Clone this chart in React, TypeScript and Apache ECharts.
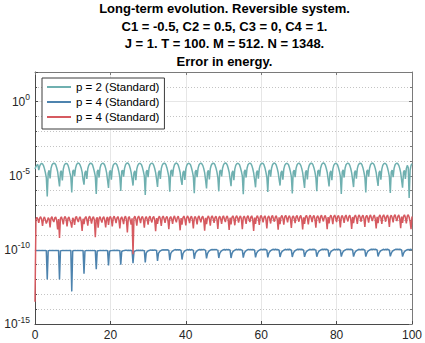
import { useEffect, useRef } from "react";
import * as echarts from "echarts";

const FONT = "'Liberation Sans', Arial, Helvetica, sans-serif";

const titleLines = [
  "Long-term evolution. Reversible system.",
  "C1 = -0.5, C2 = 0.5, C3 = 0, C4 = 1.",
  "J = 1. T = 100. M = 512. N = 1348.",
  "Error in energy.",
];

const legendLabels = ["p = 2 (Standard)", "p = 4 (Standard)", "p = 4 (Standard)"];
const seriesKeys = ["p2std", "p4stdA", "p4stdB"];
const seriesColors = ["#6fb0b0", "#4d83ae", "#d65a60"];

// sampling of the time axis
const tStart = 0;
const tStep = 0.25;

// axis ticks
const xMin = 0;
const xMax = 100;
const xInterval = 20;
const yExpMin = -15;
const yExpMax = 2;
const yExpInterval = 5;

// error values, stored as log10(error)
const errP2StdLog10 = [
  -4.55, -4.38, -4.28, -4.24, -4.62, -4.34, -4.21, -4.17, -4.2, -4.31, -4.52, -4.78, -5.12,
  -6.4, -4.82, -4.63, -5.18, -4.5, -4.27, -4.18, -4.15, -4.17, -4.26, -4.46, -4.71, -5.22,
  -5.72, -4.76, -4.66, -5.32, -4.56, -4.3, -4.2, -4.16, -4.19, -4.28, -4.5, -4.81, -5.08,
  -6.12, -4.71, -4.6, -5.02, -4.5, -4.27, -4.17, -4.14, -4.18, -4.3, -4.48, -4.76, -5.26,
  -5.6, -4.79, -4.67, -5.21, -4.53, -4.3, -4.19, -4.15, -4.17, -4.26, -4.47, -4.73, -5.04,
  -6.22, -4.72, -4.6, -5.12, -4.48, -4.26, -4.18, -4.15, -4.19, -4.29, -4.5, -4.8, -5.31,
  -5.82, -4.77, -4.64, -5.26, -4.54, -4.29, -4.2, -4.16, -4.18, -4.27, -4.46, -4.74, -5.1,
  -6.02, -4.7, -4.62, -5.06, -4.5, -4.27, -4.17, -4.14, -4.17, -4.28, -4.49, -4.77, -5.2,
  -5.66, -4.8, -4.66, -5.3, -4.55, -4.31, -4.2, -4.16, -4.18, -4.26, -4.45, -4.7, -5.02,
  -6.3, -4.74, -4.61, -5.1, -4.49, -4.26, -4.18, -4.15, -4.18, -4.3, -4.51, -4.79, -5.25,
  -5.75, -4.78, -4.65, -5.22, -4.52, -4.28, -4.19, -4.15, -4.17, -4.27, -4.47, -4.75, -5.08,
  -6.08, -4.71, -4.6, -5.04, -4.49, -4.26, -4.17, -4.14, -4.18, -4.29, -4.5, -4.78, -5.28,
  -5.62, -4.79, -4.67, -5.28, -4.55, -4.3, -4.2, -4.16, -4.18, -4.26, -4.46, -4.72, -5.05,
  -6.18, -4.73, -4.61, -5.1, -4.5, -4.27, -4.18, -4.15, -4.19, -4.3, -4.5, -4.79, -5.3,
  -5.85, -4.77, -4.64, -5.24, -4.53, -4.29, -4.19, -4.15, -4.17, -4.27, -4.47, -4.74, -5.12,
  -6.05, -4.7, -4.61, -5.05, -4.49, -4.27, -4.17, -4.14, -4.17, -4.28, -4.49, -4.76, -5.22,
  -5.7, -4.8, -4.66, -5.3, -4.55, -4.3, -4.2, -4.16, -4.18, -4.26, -4.46, -4.71, -5.03,
  -6.25, -4.73, -4.6, -5.12, -4.49, -4.26, -4.18, -4.15, -4.18, -4.3, -4.51, -4.8, -5.27,
  -5.78, -4.78, -4.65, -5.2, -4.52, -4.28, -4.19, -4.15, -4.17, -4.27, -4.47, -4.75, -5.1,
  -6.1, -4.71, -4.6, -5.06, -4.49, -4.26, -4.17, -4.14, -4.18, -4.29, -4.5, -4.78, -5.25,
  -5.66, -4.79, -4.67, -5.27, -4.55, -4.3, -4.2, -4.16, -4.18, -4.26, -4.46, -4.72, -5.06,
  -6.2, -4.73, -4.61, -5.1, -4.5, -4.27, -4.18, -4.15, -4.19, -4.3, -4.5, -4.79, -5.29,
  -5.82, -4.77, -4.64, -5.24, -4.53, -4.29, -4.19, -4.15, -4.17, -4.27, -4.47, -4.74, -5.12,
  -6.04, -4.7, -4.61, -5.05, -4.49, -4.27, -4.17, -4.14, -4.17, -4.28, -4.49, -4.76, -5.22,
  -5.72, -4.8, -4.66, -5.3, -4.55, -4.3, -4.2, -4.16, -4.18, -4.26, -4.46, -4.71, -5.04,
  -6.22, -4.73, -4.6, -5.12, -4.49, -4.26, -4.18, -4.15, -4.18, -4.3, -4.51, -4.8, -5.27,
  -5.76, -4.78, -4.65, -5.2, -4.52, -4.28, -4.19, -4.15, -4.17, -4.27, -4.47, -4.75, -5.1,
  -6.12, -4.71, -4.6, -5.06, -4.49, -4.26, -4.17, -4.14, -4.18, -4.29, -4.5, -4.78, -5.25,
  -5.68, -4.79, -4.67, -5.27, -4.55, -4.3, -4.2, -4.16, -4.18, -4.26, -4.46, -4.72, -5.06,
  -6.16, -4.73, -4.61, -5.1, -4.5, -4.27, -4.18, -4.15, -4.19, -4.3, -4.5, -4.79, -5.29,
  -5.8, -4.76, -4.64, -5.22, -4.52, -4.3, -4.45, -6.5, -4.62, -4.3, -4.18,
];

const errP4StdALog10 = [
  -10.02, -10.05, -10.04, -10.05, -10.05, -10.04, -10.05, -10.05, -10.04, -10.05, -10.05, -10.04, -10.05,
  -12.0, -10.06, -10.05, -10.05, -10.04, -10.05, -10.05, -10.04, -10.05, -10.05, -10.04, -10.05, -10.05,
  -12.0, -10.07, -10.05, -10.04, -10.05, -10.05, -10.04, -10.05, -10.05, -10.04, -10.05, -10.05, -10.05,
  -12.8, -10.07, -10.05, -10.05, -10.04, -10.05, -10.04, -10.05, -10.05, -10.04, -10.05, -10.04, -10.05,
  -11.6, -10.08, -10.05, -10.04, -10.05, -10.04, -10.05, -10.04, -10.05, -10.04, -10.05, -10.04, -10.05,
  -11.3, -10.09, -10.06, -10.05, -10.04, -10.04, -10.05, -10.04, -10.04, -10.05, -10.04, -10.04, -10.05,
  -11.05, -10.1, -10.06, -10.05, -10.04, -10.04, -10.03, -10.04, -10.04, -10.03, -10.04, -10.04, -10.05,
  -11.0, -10.12, -10.07, -10.05, -10.04, -10.03, -10.03, -10.04, -10.03, -10.04, -10.03, -10.04, -10.05,
  -10.9, -10.15, -10.08, -10.05, -10.03, -10.04, -10.02, -10.04, -10.03, -10.04, -10.02, -10.04, -10.05,
  -10.85, -10.22, -10.12, -10.07, -10.04, -10.02, -10.0, -10.03, -10.01, -10.03, -10.0, -10.02, -10.04,
  -10.75, -10.24, -10.13, -10.07, -10.03, -10.01, -9.99, -10.02, -9.99, -10.02, -9.99, -10.01, -10.04,
  -10.7, -10.25, -10.14, -10.08, -10.03, -10.0, -9.98, -10.02, -9.98, -10.01, -9.98, -10.01, -10.04,
  -10.65, -10.26, -10.14, -10.07, -10.03, -10.0, -9.98, -10.01, -9.97, -10.01, -9.98, -10.0, -10.03,
  -10.6, -10.25, -10.13, -10.07, -10.02, -9.99, -9.97, -10.01, -9.97, -10.0, -9.97, -10.0, -10.03,
  -10.58, -10.25, -10.13, -10.06, -10.02, -9.99, -9.97, -10.0, -9.96, -10.0, -9.97, -10.0, -10.02,
  -10.55, -10.24, -10.13, -10.06, -10.02, -9.99, -9.97, -10.01, -9.97, -10.0, -9.97, -9.99, -10.02,
  -10.55, -10.25, -10.12, -10.06, -10.02, -9.99, -9.96, -10.0, -9.96, -9.99, -9.97, -10.0, -10.03,
  -10.52, -10.24, -10.12, -10.06, -10.01, -9.98, -9.97, -10.0, -9.96, -10.0, -9.97, -9.99, -10.02,
  -10.5, -10.24, -10.13, -10.06, -10.02, -9.99, -9.96, -10.0, -9.96, -9.99, -9.96, -9.99, -10.02,
  -10.5, -10.23, -10.12, -10.05, -10.01, -9.98, -9.96, -10.0, -9.95, -9.99, -9.97, -9.99, -10.02,
  -10.48, -10.24, -10.12, -10.06, -10.02, -9.99, -9.96, -10.0, -9.96, -9.99, -9.96, -9.99, -10.02,
  -10.48, -10.23, -10.12, -10.05, -10.01, -9.98, -9.96, -9.99, -9.95, -9.99, -9.96, -9.99, -10.02,
  -10.47, -10.24, -10.12, -10.06, -10.02, -9.99, -9.96, -10.0, -9.96, -9.99, -9.96, -9.99, -10.01,
  -10.46, -10.23, -10.11, -10.05, -10.01, -9.98, -9.96, -9.99, -9.95, -9.99, -9.96, -9.98, -10.02,
  -10.46, -10.24, -10.12, -10.06, -10.02, -9.99, -9.96, -10.0, -9.96, -9.99, -9.96, -9.99, -10.02,
  -10.45, -10.23, -10.11, -10.05, -10.01, -9.98, -9.95, -9.99, -9.95, -9.98, -9.96, -9.98, -10.01,
  -10.45, -10.24, -10.12, -10.06, -10.02, -9.99, -9.96, -10.0, -9.96, -9.99, -9.96, -9.99, -10.02,
  -10.45, -10.23, -10.11, -10.05, -10.01, -9.98, -9.96, -9.99, -9.95, -9.98, -9.96, -9.98, -10.01,
  -10.44, -10.24, -10.12, -10.05, -10.02, -9.99, -9.96, -10.0, -9.96, -9.99, -9.96, -9.99, -10.02,
  -10.44, -10.23, -10.11, -10.05, -10.01, -9.98, -9.95, -9.99, -9.95, -9.98, -9.96, -9.98, -10.01,
  -10.45, -10.24, -10.12, -10.06, -10.02, -9.99, -9.97, -10.0, -9.96, -9.99, -9.98,
];

const errP4StdBLog10 = [
  -13.5, -7.96, -7.8, -7.92, -8.18, -7.86, -7.76, -7.94, -8.38, -7.9, -7.78, -7.97, -8.22,
  -8.06, -7.82, -7.93, -8.48, -7.86, -7.76, -8.0, -8.12, -7.84, -7.78, -8.02, -8.62, -7.92,
  -9.2, -7.88, -7.77, -7.97, -8.28, -7.86, -7.74, -7.92, -8.42, -7.87, -7.78, -8.0, -8.18,
  -8.5, -7.84, -7.94, -8.32, -7.82, -7.75, -7.98, -8.12, -7.85, -7.77, -8.04, -8.72, -7.9,
  -8.26, -7.86, -7.75, -7.95, -8.36, -7.84, -7.73, -7.92, -8.22, -7.86, -7.76, -7.98, -9.15,
  -7.92, -7.8, -8.5, -7.88, -7.76, -7.97, -8.16, -7.84, -7.76, -8.01, -8.48, -7.88, -7.78,
  -8.32, -7.85, -7.74, -7.93, -8.42, -7.84, -7.73, -7.91, -8.2, -7.85, -7.75, -7.97, -8.56,
  -7.89, -7.77, -7.96, -8.26, -7.83, -7.73, -7.97, -8.82, -7.85, -7.75, -7.99, -8.3, -7.87,
  -10.3, -7.84, -7.73, -7.93, -8.36, -7.84, -7.72, -7.9, -8.2, -7.84, -7.74, -7.96, -8.5,
  -7.87, -7.75, -7.94, -8.3, -7.82, -7.72, -7.96, -8.15, -7.83, -7.74, -7.99, -8.74, -7.86,
  -8.24, -7.84, -7.73, -7.92, -8.38, -7.83, -7.72, -7.9, -8.18, -7.84, -7.74, -7.96, -8.6,
  -7.86, -7.75, -7.93, -8.25, -7.82, -7.71, -7.95, -8.14, -7.82, -7.73, -7.98, -8.68, -7.85,
  -8.3, -7.83, -7.72, -7.91, -8.35, -7.82, -7.71, -7.89, -8.2, -7.83, -7.73, -7.95, -8.55,
  -7.85, -7.74, -7.92, -8.28, -7.81, -7.71, -7.94, -8.14, -7.82, -7.72, -7.97, -8.7, -7.84,
  -8.26, -7.82, -7.71, -7.9, -8.36, -7.81, -7.7, -7.88, -8.18, -7.82, -7.72, -7.94, -8.58,
  -7.84, -7.73, -7.91, -8.25, -7.8, -7.7, -7.93, -8.12, -7.81, -7.71, -7.96, -8.66, -7.83,
  -8.28, -7.81, -7.7, -7.89, -8.34, -7.8, -7.69, -7.87, -8.16, -7.81, -7.71, -7.93, -8.6,
  -7.83, -7.72, -7.9, -8.24, -7.79, -7.69, -7.92, -8.12, -7.8, -7.7, -7.95, -8.72, -7.82,
  -8.25, -7.8, -7.69, -7.88, -8.32, -7.79, -7.68, -7.86, -8.15, -7.8, -7.7, -7.92, -8.56,
  -7.82, -7.71, -7.89, -8.22, -7.78, -7.68, -7.91, -8.1, -7.79, -7.69, -7.94, -8.64, -7.81,
  -8.26, -7.79, -7.68, -7.87, -8.3, -7.78, -7.67, -7.85, -8.14, -7.79, -7.69, -7.91, -8.52,
  -7.81, -7.7, -7.88, -8.2, -7.77, -7.67, -7.9, -8.1, -7.78, -7.68, -7.93, -8.62, -7.8,
  -8.24, -7.78, -7.67, -7.86, -8.28, -7.77, -7.66, -7.84, -8.12, -7.78, -7.68, -7.9, -8.5,
  -7.8, -7.69, -7.87, -8.2, -7.76, -7.66, -7.89, -8.08, -7.77, -7.67, -7.92, -8.6, -7.79,
  -8.22, -7.77, -7.66, -7.85, -8.26, -7.76, -7.65, -7.83, -8.12, -7.77, -7.67, -7.89, -8.48,
  -7.79, -7.68, -7.86, -8.18, -7.75, -7.65, -7.88, -8.08, -7.76, -7.66, -7.91, -8.58, -7.78,
  -8.2, -7.76, -7.65, -7.84, -8.25, -7.75, -7.64, -7.82, -8.1, -7.76, -7.66, -7.88, -8.45,
  -7.78, -7.67, -7.85, -8.16, -7.74, -7.64, -7.87, -8.06, -7.75, -7.65, -7.9, -8.56, -7.77,
  -8.2, -7.75, -7.64, -7.83, -8.24, -7.74, -7.63, -7.81, -8.1, -7.75, -7.65, -7.87, -8.45,
  -7.77, -7.66, -7.84, -8.15, -7.73, -7.63, -7.86, -8.05, -7.74, -7.64, -7.89, -8.54, -7.76,
  -8.18, -7.74, -7.63, -7.82, -8.22, -7.73, -7.63, -7.8, -8.1, -8.6, -7.75,
];

const seriesLog10 = [errP2StdLog10, errP4StdALog10, errP4StdBLog10];

const toPoints = (log10Values: number[]) =>
  log10Values.map((e, i) => [tStart + i * tStep, Math.pow(10, e)]);

export default function App() {
  const ref = useRef<HTMLDivElement>(null);

  useEffect(() => {
    if (!ref.current) return;
    const chart = echarts.init(ref.current, undefined, { renderer: "svg" });

    const axisDark = "#4a4a4a";
    const axisLight = "#7a7a7a";

    chart.setOption({
      animation: false,
      backgroundColor: "#ffffff",
      title: {
        text: titleLines.join("\n"),
        left: 224.5,
        top: 0,
        padding: 0,
        textAlign: "center",
        textStyle: {
          fontFamily: FONT,
          fontSize: 13,
          fontWeight: "bold",
          lineHeight: 17.5,
          color: "#000000",
        },
      },
      legend: {
        orient: "vertical",
        left: 42,
        top: 78,
        padding: [2, 5, 5, 5],
        itemGap: 1,
        itemWidth: 24,
        itemHeight: 2,
        icon: "rect",
        backgroundColor: "#ffffff",
        borderColor: "#3c3c3c",
        borderWidth: 1,
        borderRadius: 0,
        selectedMode: false,
        data: seriesKeys,
        formatter: (name: string) => legendLabels[seriesKeys.indexOf(name)],
        textStyle: {
          fontFamily: FONT,
          fontSize: 11.5,
          lineHeight: 14,
          color: "#000000",
        },
      },
      grid: { left: 35, right: 11, top: 72, bottom: 19, containLabel: false },
      xAxis: [
        {
          type: "value",
          position: "bottom",
          min: xMin,
          max: xMax,
          interval: xInterval,
          axisLine: { show: true, onZero: false, lineStyle: { color: axisDark, width: 1 } },
          axisTick: { show: true, inside: true, length: 3, lineStyle: { color: axisDark } },
          axisLabel: {
            show: true,
            margin: 5,
            fontFamily: FONT,
            fontSize: 12,
            color: "#262626",
          },
          splitLine: { show: true, lineStyle: { color: "#e6e6e6", width: 1 } },
        },
        {
          type: "value",
          position: "top",
          min: xMin,
          max: xMax,
          interval: xInterval,
          axisLine: { show: true, onZero: false, lineStyle: { color: axisLight, width: 1 } },
          axisTick: { show: true, inside: true, length: 3, lineStyle: { color: axisLight } },
          axisLabel: { show: false },
          splitLine: { show: false },
        },
      ],
      yAxis: [
        {
          type: "log",
          logBase: 10,
          min: Math.pow(10, yExpMin),
          max: Math.pow(10, yExpMax),
          show: false,
          axisLine: { onZero: false },
          splitLine: { show: false },
        },
        {
          type: "value",
          position: "left",
          min: yExpMin,
          max: yExpMax,
          interval: yExpInterval,
          axisLine: { show: true, onZero: false, lineStyle: { color: axisDark, width: 1 } },
          axisTick: { show: true, inside: true, length: 3, lineStyle: { color: axisDark } },
          minorTick: { show: true, splitNumber: 5, length: 2, lineStyle: { color: axisDark } },
          axisLabel: {
            show: true,
            margin: 5,
            formatter: (v: number) =>
              v % yExpInterval === 0 && v <= 0 ? `{b|10}{s|${v}}` : "",
            rich: {
              b: {
                fontFamily: FONT,
                fontSize: 12,
                lineHeight: 18,
                color: "#262626",
              },
              s: {
                fontFamily: FONT,
                fontSize: 8.5,
                lineHeight: 9,
                verticalAlign: "top",
                color: "#262626",
              },
            },
          },
          splitLine: { show: true, lineStyle: { color: "#e6e6e6", width: 1 } },
          minorSplitLine: {
            show: true,
            lineStyle: { color: "#c4c4c4", width: 1, type: [1, 2] },
          },
        },
        {
          type: "value",
          position: "right",
          min: yExpMin,
          max: yExpMax,
          interval: yExpInterval,
          axisLine: { show: true, onZero: false, lineStyle: { color: axisLight, width: 1 } },
          axisTick: { show: true, inside: true, length: 3, lineStyle: { color: axisLight } },
          minorTick: { show: true, splitNumber: 5, length: 2, lineStyle: { color: axisLight } },
          axisLabel: { show: false },
          splitLine: { show: false },
        },
      ],
      series: seriesLog10.map((vals, i) => ({
        name: seriesKeys[i],
        type: "line",
        xAxisIndex: 0,
        yAxisIndex: 0,
        data: toPoints(vals),
        showSymbol: false,
        symbol: "none",
        color: seriesColors[i],
        lineStyle: { color: seriesColors[i], width: 1.5 },
        z: 3 + i,
      })),
    });

    return () => {
      chart.dispose();
    };
  }, []);

  return (
    <div
      ref={ref}
      style={{ position: "absolute", left: 0, top: 0, width: 425, height: 343 }}
    />
  );
}
